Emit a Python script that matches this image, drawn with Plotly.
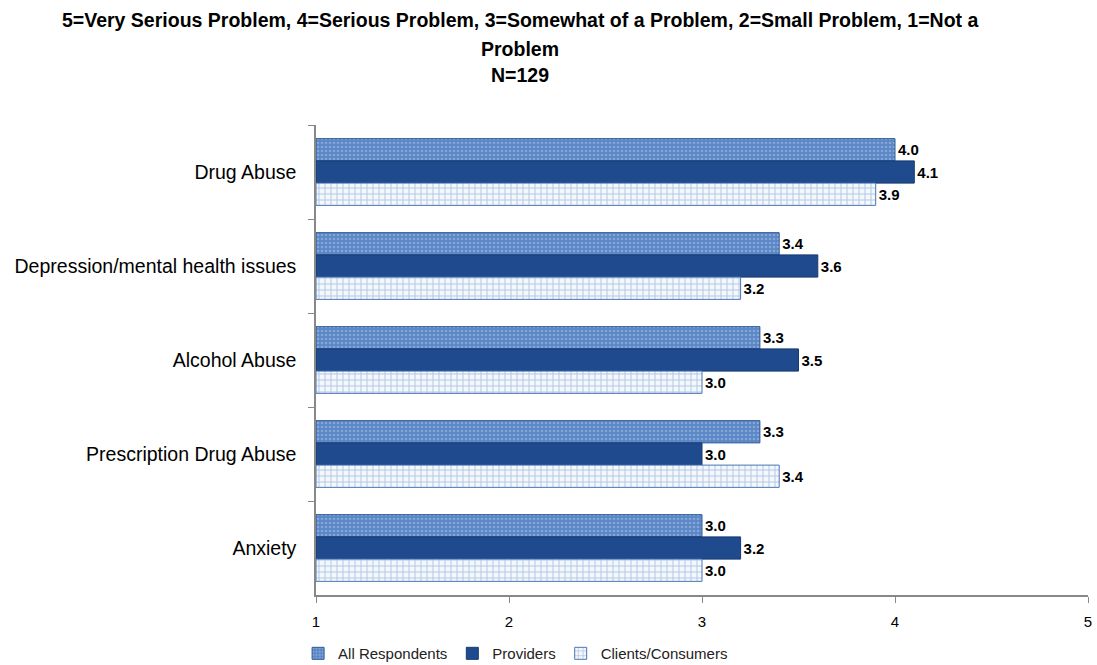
import plotly.graph_objects as go

categories = ["Drug Abuse", "Depression/mental health issues", "Alcohol Abuse",
              "Prescription Drug Abuse", "Anxiety"]
all_respondents = [4.0, 3.4, 3.3, 3.3, 3.0]
providers = [4.1, 3.6, 3.5, 3.0, 3.2]
clients = [3.9, 3.2, 3.0, 3.4, 3.0]
x_ticks = [1, 2, 3, 4, 5]

title_lines = ["5=Very Serious Problem, 4=Serious Problem, 3=Somewhat of a Problem, "
               "2=Small Problem, 1=Not a", "Problem", "N=129"]

FONT = "Liberation Sans, Arial"
label_font = dict(family=FONT, size=15, color="black")

fig = go.Figure()

fig.add_trace(go.Bar(
    name="All Respondents", y=categories, x=[v - 1 for v in all_respondents],
    orientation="h", base=1, text=[f"<b>{v:.1f}</b>" for v in all_respondents],
    textposition="outside", textfont=label_font, cliponaxis=False,
    marker=dict(color="#5A87C6",
                line=dict(color="#2E5A96", width=1),
                pattern=dict(shape=".", fgcolor="#AFC6E6", bgcolor="#5A87C6",
                             size=4, solidity=0.35)),
))
fig.add_trace(go.Bar(
    name="Providers", y=categories, x=[v - 1 for v in providers],
    orientation="h", base=1, text=[f"<b>{v:.1f}</b>" for v in providers],
    textposition="outside", textfont=label_font, cliponaxis=False,
    marker=dict(color="#1F4A8E", line=dict(color="#163A72", width=1)),
))
fig.add_trace(go.Bar(
    name="Clients/Consumers", y=categories, x=[v - 1 for v in clients],
    orientation="h", base=1, text=[f"<b>{v:.1f}</b>" for v in clients],
    textposition="outside", textfont=label_font, cliponaxis=False,
    marker=dict(color="#F4F8FD",
                line=dict(color="#4A76B4", width=1),
                pattern=dict(shape="+", fgcolor="#6F95CC", bgcolor="#F4F8FD",
                             size=6, solidity=0.3)),
))

# three-line heading, placed as annotations above the plot area
title_y = [1.252, 1.19, 1.135]
for txt, yy in zip(title_lines, title_y):
    fig.add_annotation(text=f"<b>{txt}</b>", xref="paper", yref="paper",
                       x=0.264, y=yy, xanchor="center", yanchor="top",
                       showarrow=False,
                       font=dict(family=FONT, size=19.5, color="black"))

fig.update_layout(
    width=1097, height=665,
    paper_bgcolor="white", plot_bgcolor="white",
    margin=dict(l=316, r=9, t=125, b=70, autoexpand=False),
    barmode="group", bargap=0.29, bargroupgap=0,
    legend=dict(orientation="h", x=0.47, xanchor="center", xref="container",
                y=0.042, yanchor="top", yref="container",
                font=dict(family=FONT, size=15, color="#222"),
                itemwidth=30, traceorder="normal"),
    showlegend=True,
)
fig.update_xaxes(range=[1, 5], tickvals=x_ticks, ticktext=[str(t) for t in x_ticks],
                 showgrid=False, zeroline=False, showline=True, linecolor="#888",
                 linewidth=1.5, ticks="outside", tickcolor="#888", ticklen=6,
                 ticklabelstandoff=6,
                 tickfont=dict(family=FONT, size=15, color="black"))
fig.update_yaxes(autorange="reversed", showgrid=False, showline=True, linecolor="#888",
                 linewidth=1.5, ticks="outside", tickson="boundaries", tickcolor="#888",
                 ticklen=6, ticklabelstandoff=14,
                 tickfont=dict(family=FONT, size=19.5, color="black"))

fig.write_html("out.html")
